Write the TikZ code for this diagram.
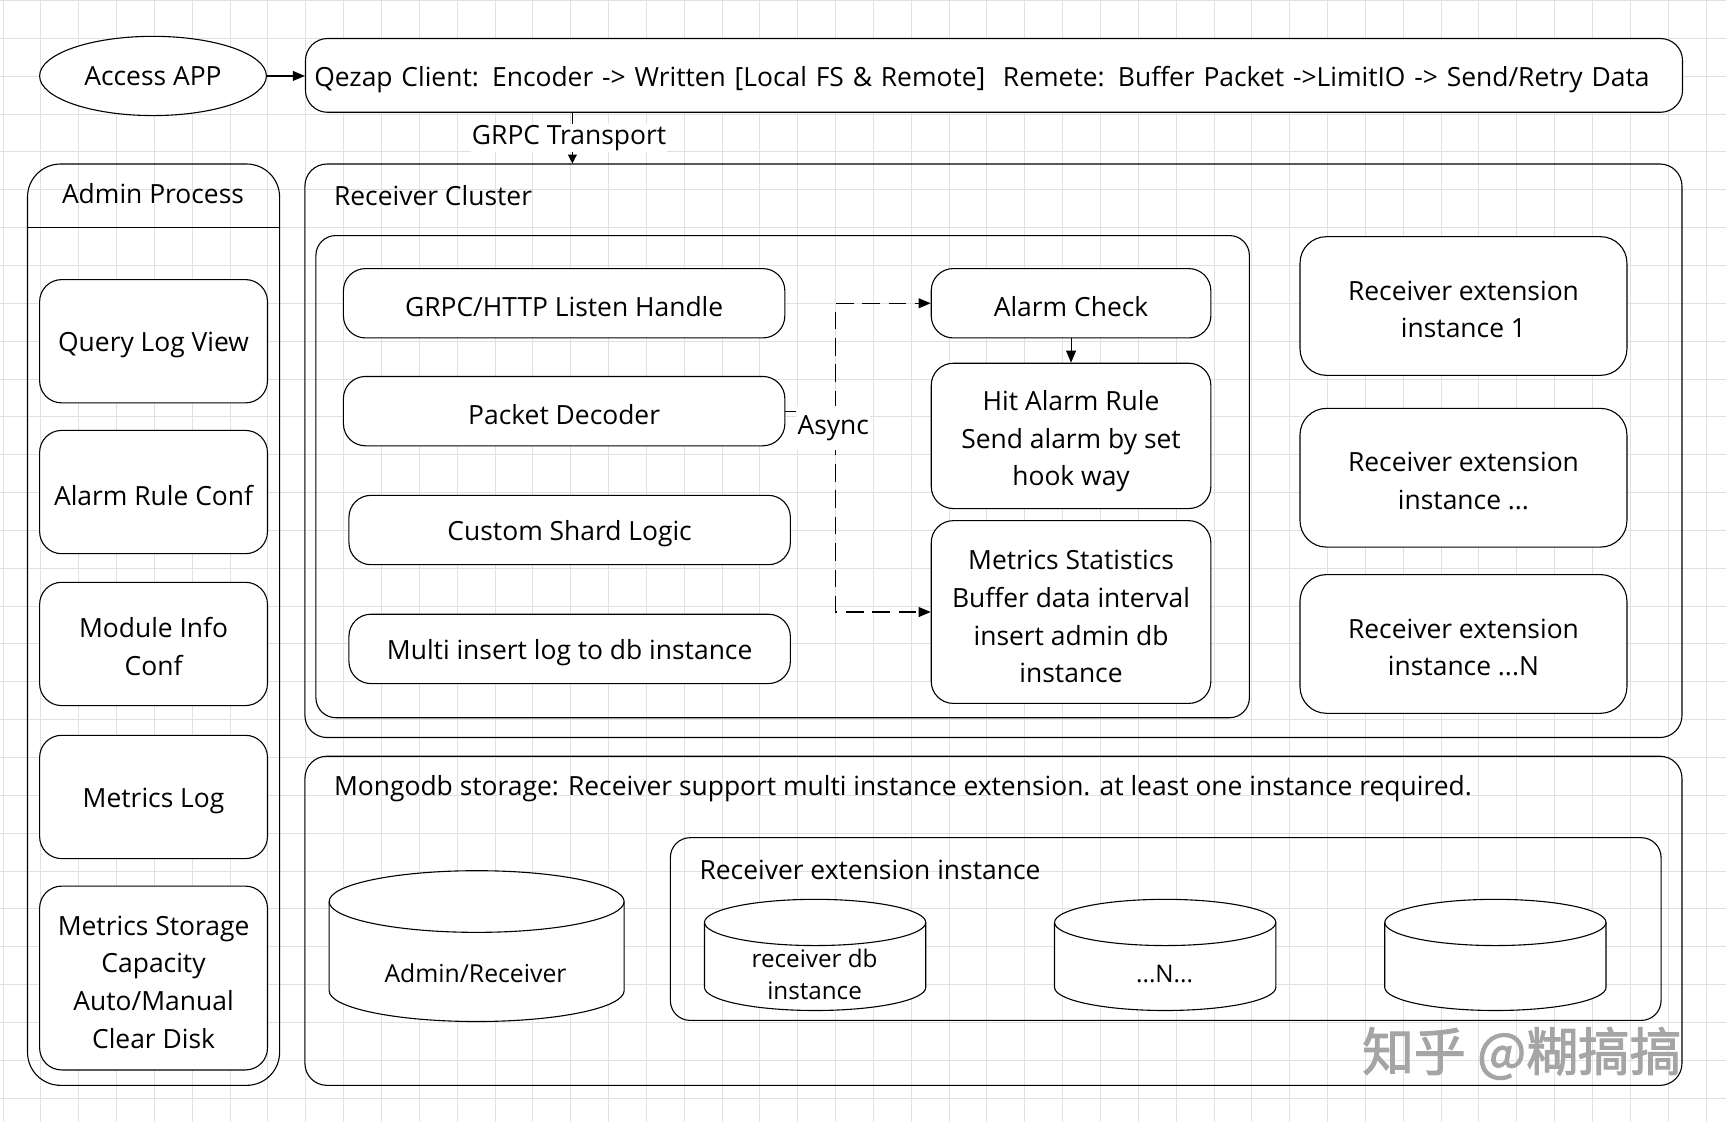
\documentclass[tikz,border=0pt]{standalone}
\usepackage{fontspec}
\setmainfont{Open Sans}
\newfontfamily\cjk[AutoFakeBold=2]{Noto Sans CJK SC}
\usetikzlibrary{arrows.meta,fit,shapes.geometric}
\newcommand\firstln[1]{\rule{0pt}{#1pt}}
\newcommand\dbcyl[6]{% name, cx, rx, ytop, ybottom, ry
  \draw[line width=1pt,fill=white] ({#2-#3},{#4+#6}) -- ({#2-#3},{#5-#6})
    arc[start angle=180,end angle=360,x radius=#3pt,y radius=#6pt]
    -- ({#2+#3},{#4+#6})
    arc[start angle=0,end angle=180,x radius=#3pt,y radius=#6pt] -- cycle;
  \draw[line width=1pt] ({#2-#3},{#4+#6}) arc[start angle=180,end angle=360,x radius=#3pt,y radius=#6pt];
  \coordinate (#1) at (#2,{(#4+#5)/2});
}
\begin{document}
\begin{tikzpicture}[x=1pt,y=-1pt,
  font=\fontsize{24}{34.3}\selectfont,
  line width=1pt,
  gridline/.style={draw={rgb,255:red,225;green,225;blue,225},line width=0.8pt},
  lower/.style={execute at begin node={\rule{0pt}{#1pt}}},
  rbox/.style={draw,fill=white,rounded corners=#1,inner sep=0pt,align=center,lower=25},
  rbox/.default=20pt,
  sz/.style 2 args={minimum width=#1pt,minimum height=#2pt},
  cont/.style={draw,rounded corners=#1},
  cont/.default=20pt,
  arr/.style={-{Triangle[length=11pt,width=9pt]}},
  dasharr/.style={-{Triangle[length=11pt,width=9pt]},dash pattern=on 16pt off 8pt},
  title/.style={anchor=west,inner sep=0pt},
  dbtext/.style={font=\fontsize{22}{29}\selectfont,align=center,inner sep=0pt}
]
\useasboundingbox (0,0) rectangle (1568,1019);
\fill[white] (0,0) rectangle (1568,1019);
% background grid
\foreach \k in {0,...,45} {\draw[gridline] ({2.7+34.38*\k},0) -- ({2.7+34.38*\k},1019);}
\foreach \k in {0,...,29} {\draw[gridline] (0,{0.5+34.38*\k}) -- (1568,{0.5+34.38*\k});}

% top row
\node[draw,fill=white,ellipse,sz={206}{72},inner sep=0pt] (access) at (139,69) {Access APP};
\node[draw,fill=white,rounded corners=20pt,anchor=west,sz={1251}{67},inner xsep=8pt,inner ysep=0pt,text width=1235pt,align=left,lower=26] (qezap) at (277,68.5)
  {Qezap Client: Encoder -> Written [Local FS \& Remote]\ \ Remete: Buffer Packet ->LimitIO -> Send/Retry Data};
\draw[arr] (access.east) -- (access.east -| qezap.west);

% Admin process
\node[cont=30pt,fit={(25,149) (254,986)},inner sep=0pt] (admin) {};
\coordinate (adminsep) at (25,207);
\draw (adminsep) -- (adminsep -| admin.east);
\node (admintitle) at (139,175.5) {Admin Process};
\node[rbox,sz={207}{112}] (qlv) at (139.5,310) {Query Log View};
\node[rbox,sz={207}{112}] (arc) at (139.5,447) {Alarm Rule Conf};
\node[rbox,sz={207}{112}] (mic) at (139.5,585) {\firstln{23}Module Info\\Conf};
\node[rbox,sz={207}{112}] (mlog) at (139.5,724) {Metrics Log};
\node[rbox,sz={207}{167}] (msc) at (139.5,888.5) {\firstln{25}Metrics Storage\\Capacity\\Auto/Manual\\Clear Disk};

% Receiver cluster
\node[cont,fit={(277,149) (1528,670)},inner sep=0pt] (cluster) {};
\node[title] (clustertitle) at (303,178) {Receiver Cluster};
\coordinate (gx) at (520,0);
\draw[-{Triangle[length=8pt,width=8pt]}] (qezap.south -| gx) -- (cluster.north -| gx)
  node[midway,fill=white,inner sep=1pt,xshift=-3pt] (grpclabel) {GRPC Transport};
\node[cont=18pt,fit={(287,214) (1135,652)},inner sep=0pt] (inner) {};
\node[rbox,sz={401}{63}] (grpc) at (512.5,275.5) {GRPC/HTTP Listen Handle};
\node[rbox,sz={401}{63}] (pd) at (512.5,373.5) {Packet Decoder};
\node[rbox,sz={401}{63}] (csl) at (517.5,481.5) {Custom Shard Logic};
\node[rbox,sz={401}{63}] (mi) at (517.5,589.5) {Multi insert log to db instance};
\node[rbox,sz={254}{63}] (ac) at (973,275.5) {Alarm Check};
\node[rbox,sz={254}{132}] (har) at (973,396) {\firstln{28}Hit Alarm Rule\\Send alarm by set\\hook way};
\node[rbox,sz={254}{166}] (mst) at (973,556) {\firstln{26}Metrics Statistics\\Buffer data interval\\insert admin db\\instance};
\node[rbox=24pt,sz={297}{126}] (re1) at (1329.5,278) {\firstln{24}Receiver extension\\instance 1};
\node[rbox=24pt,sz={297}{126}] (re2) at (1329.5,434) {\firstln{24}Receiver extension\\instance ...};
\node[rbox=24pt,sz={297}{126}] (re3) at (1329.5,585) {\firstln{24}Receiver extension\\instance ...N};
\draw[arr] (ac.south) -- (har.north);
\coordinate (asyncx) at (759,0);
\draw[dasharr] (pd.east) -- (pd.east -| asyncx) |- (ac.west);
\draw[dasharr] (pd.east -| asyncx) |- (mst.west);
\node[fill=white,inner xsep=1pt,inner ysep=0pt,minimum height=40pt] (async) at (757,389) {Async};

% Mongodb storage
\node[cont,fit={(277,687) (1528,986)},inner sep=0pt] (mongo) {};
\node[title] (mongotitle) at (303,716) {Mongodb storage: Receiver support multi instance extension. at least one instance required.};
\dbcyl{adb}{433}{134}{791}{928}{28}
\node[dbtext,font=\fontsize{22.5}{29}\selectfont] (adbtext) at (432,884) {Admin/Receiver};
\node[cont=18pt,fit={(609,761) (1509,927)},inner sep=0pt] (ext) {};
\node[title] (exttitle) at (635,790) {Receiver extension instance};
\dbcyl{db1}{740.5}{100.5}{817}{918}{21}
\dbcyl{db2}{1058.5}{100.5}{817}{918}{21}
\dbcyl{db3}{1358.5}{100.5}{817}{918}{21}
\node[dbtext] (db1text) at (740,885) {receiver db\\instance};
\node[dbtext] (db2text) at (1058,885) {...N...};

% watermark
\node[anchor=east,inner sep=0pt,text={rgb,255:red,165;green,165;blue,165},font=\cjk\bfseries\fontsize{47}{47}\selectfont] (wm) at (1528,957) {知乎 @糊搞搞};
\end{tikzpicture}
\end{document}
